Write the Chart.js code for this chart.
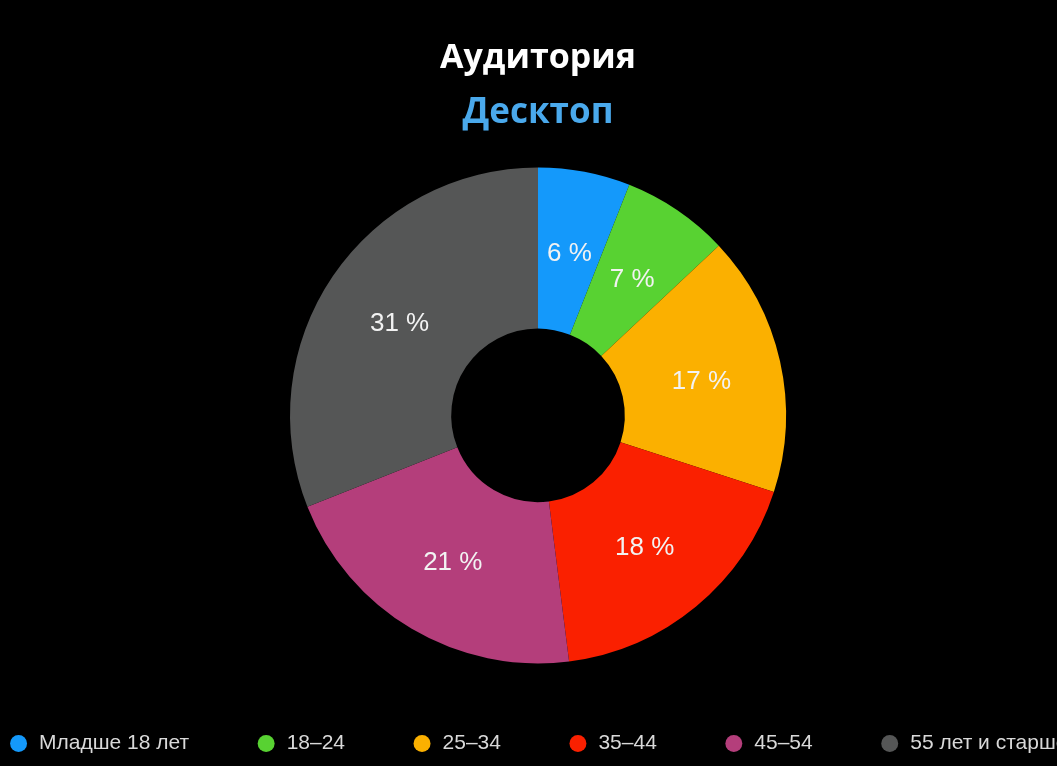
<!DOCTYPE html>
<html>
<head>
<meta charset="utf-8">
<script src="https://cdn.jsdelivr.net/npm/chart.js@4"></script>
<style>
  html, body { margin: 0; padding: 0; background: #000; overflow: hidden; }
  #wrap { position: absolute; left: -112px; top: 0; width: 1300px; height: 766px; }
</style>
</head>
<body>
<div id="wrap"><canvas id="audience"></canvas></div>
<script>
// Аудитория, десктоп
var ageGroups = ['Младше 18 лет', '18–24', '25–34', '35–44', '45–54', '55 лет и старше'];
var shares    = [6, 7, 17, 18, 21, 31];
var colors    = ['#1499fb', '#58d232', '#fbb000', '#fa2000', '#b43e7b', '#555656'];

// подписи процентов внутри сегментов
var sliceLabels = {
    id: 'sliceLabels',
    afterDatasetsDraw: function(chart) {
        var ctx = chart.ctx;
        var meta = chart.getDatasetMeta(0);
        ctx.save();
        ctx.font = '26px "Liberation Sans", Arial, sans-serif';
        ctx.fillStyle = '#f2f2f2';
        ctx.textAlign = 'center';
        ctx.textBaseline = 'middle';
        meta.data.forEach(function(arc, i) {
            var p = arc.tooltipPosition();
            ctx.fillText(chart.data.datasets[0].data[i] + ' %', p.x, p.y + 3);
        });
        ctx.restore();
    }
};

var ctx = document.getElementById('audience').getContext('2d');
var audienceChart = new Chart(ctx, {
    type: 'doughnut',
    data: {
        labels: ageGroups,
        datasets: [{
            data: shares,
            backgroundColor: colors,
            borderWidth: 0,
            radius: 248
        }]
    },
    options: {
        responsive: true,
        maintainAspectRatio: false,
        animation: false,
        cutout: '35%',
        layout: { padding: { bottom: 2 } },
        plugins: {
            title: {
                display: true,
                text: 'Аудитория',
                color: '#ffffff',
                font: { family: '"Open Sans", sans-serif', size: 34, weight: 'bold' },
                padding: { top: 38, bottom: 0 }
            },
            subtitle: {
                display: true,
                text: 'Десктоп',
                color: '#4aa9ec',
                font: { family: '"Open Sans", sans-serif', size: 35, weight: 'bold' },
                padding: { top: 13, bottom: 31 }
            },
            legend: {
                position: 'bottom',
                labels: {
                    usePointStyle: true,
                    pointStyle: 'circle',
                    boxWidth: 20,
                    boxHeight: 12,
                    padding: 67,
                    color: '#d9d9d9',
                    font: { family: '"Liberation Sans", Arial, sans-serif', size: 21 }
                }
            },
            tooltip: { enabled: false }
        }
    },
    plugins: [sliceLabels]
});
</script>
</body>
</html>
